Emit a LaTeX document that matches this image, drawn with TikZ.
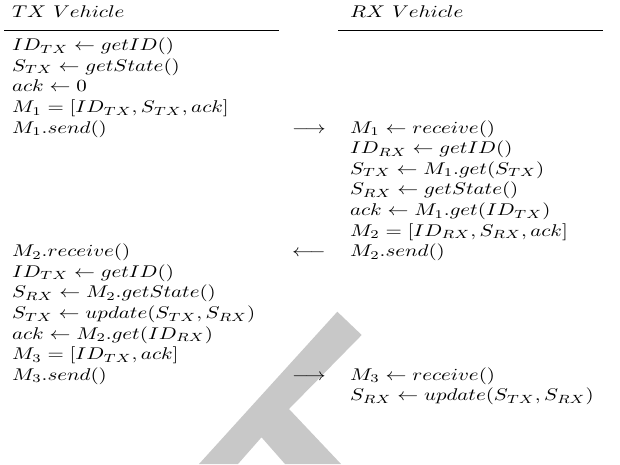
\documentclass[tikz,border=0pt]{standalone}
\usepackage{amsmath}
\usepackage{graphicx}
\definecolor{markgrey}{RGB}{200,200,200}
% text is set slightly wider than tall
\newcommand\vsquash[1]{\scalebox{1}[0.81]{#1}}
\begin{document}
% one unit = one pixel of a 620 x 464 canvas, y pointing down
\begin{tikzpicture}[x=0.4775pt,y=-0.4775pt,
  line/.style={anchor=base west,inner sep=0pt,outer sep=0pt},
  msgarrow/.style={anchor=base west,inner sep=0pt,outer sep=0pt},
  rule/.style={line width=0.42pt}]
\useasboundingbox (0,0) rectangle (620,464);

% grey background mark
\fill[markgrey] (337.3,311.7) -- (361.7,335) -- (289,409) -- (341,464)
  -- (285,464) -- (261.5,437.3) -- (238,464) -- (199,464) -- cycle;

% column headers and rules
\node[line] (htx) at (12,17.3) {\vsquash{$TX\ Vehicle$}};
\node[line] (hrx) at (350,17.3) {\vsquash{$RX\ Vehicle$}};
\coordinate (lr1) at (4,30.5);   \coordinate (lr2) at (279,30.5);
\coordinate (rr1) at (338,30.5); \coordinate (rr2) at (603,30.5);
\draw[rule] (lr1) -- (lr2);
\draw[rule] (rr1) -- (rr2);

% transmitting vehicle, first block
\node[line] (l0) at (12,50.7)  {\vsquash{$ID_{TX} \leftarrow getID()$}};
\node[line] (l1) at (12,71.3)  {\vsquash{$S_{TX} \leftarrow getState()$}};
\node[line] (l2) at (12,91.9)  {\vsquash{$ack \leftarrow 0$}};
\node[line] (l3) at (12,112.5) {\vsquash{$M_1 = [ID_{TX}, S_{TX}, ack]$}};
\node[line] (l4) at (12,133.1) {\vsquash{$M_1.send()$}};

% messages
\node[msgarrow] (a1) at (292,133.1) {\vsquash{$\longrightarrow$}};
\node[msgarrow] (a2) at (292,256.7) {\vsquash{$\longleftarrow$}};
\node[msgarrow] (a3) at (292,380.3) {\vsquash{$\longrightarrow$}};

% receiving vehicle
\node[line] (r4)  at (350,133.1) {\vsquash{$M_1 \leftarrow receive()$}};
\node[line] (r5)  at (350,153.7) {\vsquash{$ID_{RX} \leftarrow getID()$}};
\node[line] (r6)  at (350,174.3) {\vsquash{$S_{TX} \leftarrow M_1.get(S_{TX})$}};
\node[line] (r7)  at (350,194.9) {\vsquash{$S_{RX} \leftarrow getState()$}};
\node[line] (r8)  at (350,215.5) {\vsquash{$ack \leftarrow M_1.get(ID_{TX})$}};
\node[line] (r9)  at (350,236.1) {\vsquash{$M_2 = [ID_{RX}, S_{RX}, ack]$}};
\node[line] (r10) at (350,256.7) {\vsquash{$M_2.send()$}};

% transmitting vehicle, second block
\node[line] (l10) at (12,256.7) {\vsquash{$M_2.receive()$}};
\node[line] (l11) at (12,277.3) {\vsquash{$ID_{TX} \leftarrow getID()$}};
\node[line] (l12) at (12,297.9) {\vsquash{$S_{RX} \leftarrow M_2.getState()$}};
\node[line] (l13) at (12,318.5) {\vsquash{$S_{TX} \leftarrow update(S_{TX}, S_{RX})$}};
\node[line] (l14) at (12,339.1) {\vsquash{$ack \leftarrow M_2.get(ID_{RX})$}};
\node[line] (l15) at (12,359.7) {\vsquash{$M_3 = [ID_{TX}, ack]$}};
\node[line] (l16) at (12,380.3) {\vsquash{$M_3.send()$}};

% receiving vehicle, final update
\node[line] (r16) at (350,380.3) {\vsquash{$M_3 \leftarrow receive()$}};
\node[line] (r17) at (350,400.9) {\vsquash{$S_{RX} \leftarrow update(S_{TX}, S_{RX})$}};
\end{tikzpicture}
\end{document}
